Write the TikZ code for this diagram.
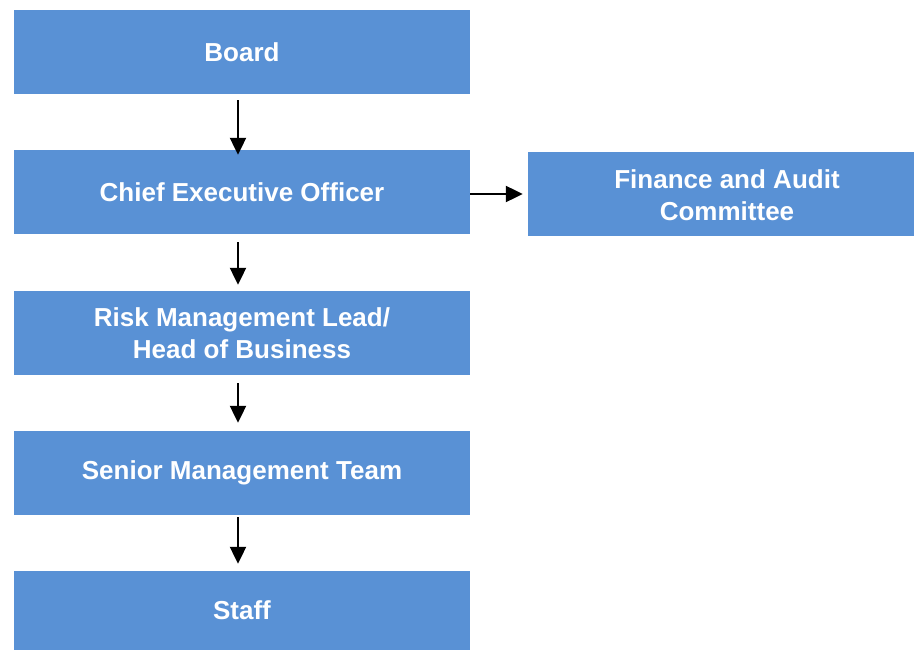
\documentclass[tikz,border=0pt]{standalone}
\usepackage{fontspec}
\setmainfont{Liberation Sans}
\usetikzlibrary{arrows.meta}
\definecolor{boxblue}{RGB}{89,145,213}
\begin{document}
\begin{tikzpicture}[x=1pt,y=-1pt,
  boxtext/.style={text=white,font=\bfseries\fontsize{26}{32}\selectfont,align=center,inner sep=0pt},
  box/.style={fill=boxblue,draw=none,boxtext},
  conn/.style={line width=2.2pt,-{Triangle[length=17pt,width=16pt]}}]
\useasboundingbox (0,0) rectangle (914,650);
\node[box,minimum width=456pt,minimum height=84pt] (board) at (242,52) {Board};
\node[box,minimum width=456pt,minimum height=84pt] (ceo) at (242,192) {Chief Executive Officer};
\node[box,minimum width=386pt,minimum height=84pt,
  label={[boxtext,xshift=6pt,yshift=-1pt]center:{Finance and Audit\\Committee}}] (fac) at (721,194) {};
\node[box,minimum width=456pt,minimum height=84pt] (risk) at (242,333) {Risk Management Lead/\\Head of Business};
\node[box,minimum width=456pt,minimum height=84pt] (smt) at (242,473) {Senior Management Team};
\node[box,minimum width=456pt,minimum height=79pt] (staff) at (242,610.5) {Staff};
\draw[conn,shorten <=6pt,shorten >=-5pt] ([xshift=-4pt]board.south) -- ([xshift=-4pt]ceo.north);
\draw[conn,shorten <=8pt,shorten >=6pt] ([xshift=-4pt]ceo.south) -- ([xshift=-4pt]risk.north);
\draw[conn,shorten <=8pt,shorten >=8pt] ([xshift=-4pt]risk.south) -- ([xshift=-4pt]smt.north);
\draw[conn,shorten <=2pt,shorten >=7pt] ([xshift=-4pt]smt.south) -- ([xshift=-4pt]staff.north);
\draw[conn,shorten >=5pt] (ceo.east |- fac.west) -- (fac.west);
\end{tikzpicture}
\end{document}
